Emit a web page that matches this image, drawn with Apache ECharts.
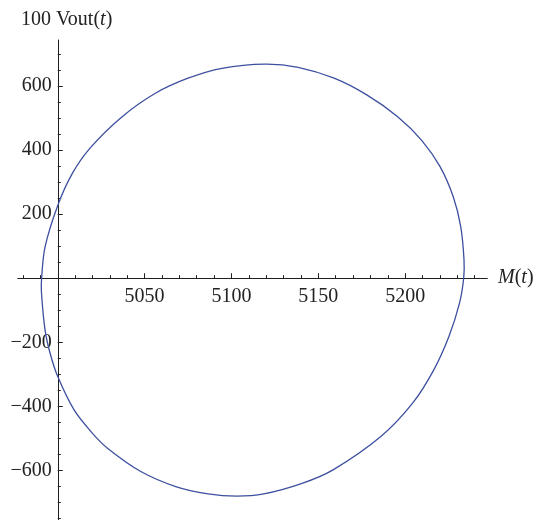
<!DOCTYPE html>
<html><head><meta charset="utf-8">
<script src="https://cdn.jsdelivr.net/npm/echarts@6/dist/echarts.min.js"></script>
<style>html,body{margin:0;padding:0;background:#fff}#c{width:538px;height:520px}</style>
</head><body><div id="c"></div>
<script>
// Closed parametric curve: M(t) and 100 Vout(t)
const mValues = [4990.7, 4992.7, 5000.0, 5008.4, 5018.6, 5036.4, 5056.2, 5075.0, 5094.5, 5119.3, 5138.4, 5159.1, 5177.9, 5195.7, 5209.4, 5220.1, 5227.7, 5232.0, 5233.9, 5233.7, 5231.3, 5225.2, 5216.5, 5204.3, 5186.0, 5158.5, 5140.7, 5118.6, 5103.0, 5086.6, 5067.9, 5048.1, 5028.8, 5020.0, 5009.4, 5000.0, 4995.6, 4992.7, 4990.6];
const voutValues = [0, 98, 227, 327, 406, 501, 577, 624, 655, 668, 658, 624, 572, 504, 431, 348, 254, 161, 57, 0, -78, -182, -286, -390, -494, -598, -640, -673, -680, -673, -650, -604, -531, -484, -411, -307, -234, -162, -43];

const xLabelValues = [5050, 5100, 5150, 5200];
const xMinorTicks = [4980, 4990, 5010, 5020, 5030, 5040, 5060, 5070, 5080, 5090, 5110, 5120, 5130, 5140, 5160, 5170, 5180, 5190, 5210, 5220, 5230, 5240];
const yLabelValues = [-600, -400, -200, 200, 400, 600];
const yMinorTicks = [-750, -700, -650, -550, -500, -450, -350, -300, -250, -150, -100, -50, 50, 100, 150, 250, 300, 350, 450, 500, 550, 650, 700];

const xMin = 4977.0, xMax = 5247.3, yMin = -754.4, yMax = 743.2, yAxisAt = 5000, xAxisAt = 0;

const gridLeft = 17.8, gridRight = 50.7, gridTop = 40, gridBottom = 0;
const gridWidth = 538 - gridLeft - gridRight;
const gridHeight = 520 - gridTop - gridBottom;
const yOffset = (yAxisAt - xMin) / (xMax - xMin) * gridWidth;
const xOffset = (xAxisAt - yMin) / (yMax - yMin) * gridHeight;

const FONT = "'Liberation Serif', 'DejaVu Serif', serif";
const AX = '#1e1e1e';
const TXT = '#222';
const fmt = v => v < 0 ? '\u2212' + Math.abs(v) : String(v);
const lbl = {fontFamily: FONT, fontSize: 20, color: TXT, fontWeight: 'normal'};
const rich = {
  a: {fontFamily: FONT, fontSize: 20, color: TXT, fontWeight: 'normal'},
  i: {fontFamily: FONT, fontSize: 20, color: TXT, fontStyle: 'italic', fontWeight: 'normal'}
};

function renderCurve(params, api) {
  if (params.dataIndex !== 0) return null;
  const pts = mValues.map((m, i) => api.coord([m, voutValues[i]]));
  const n = pts.length;
  const dist = (a, b) => Math.hypot(b[0] - a[0], b[1] - a[1]);
  let d = 'M' + pts[0][0] + ',' + pts[0][1];
  for (let i = 0; i < n; i++) {
    const p0 = pts[(i - 1 + n) % n], p1 = pts[i], p2 = pts[(i + 1) % n], p3 = pts[(i + 2) % n];
    const d01 = dist(p0, p1), d12 = dist(p1, p2), d23 = dist(p2, p3);
    const t1 = [(p2[0] - p0[0]) / (d01 + d12), (p2[1] - p0[1]) / (d01 + d12)];
    const t2 = [(p3[0] - p1[0]) / (d12 + d23), (p3[1] - p1[1]) / (d12 + d23)];
    const c1 = [p1[0] + t1[0] * d12 / 3, p1[1] + t1[1] * d12 / 3];
    const c2 = [p2[0] - t2[0] * d12 / 3, p2[1] - t2[1] * d12 / 3];
    d += 'C' + c1[0] + ',' + c1[1] + ' ' + c2[0] + ',' + c2[1] + ' ' + p2[0] + ',' + p2[1];
  }
  d += 'Z';
  return {type: 'path', shape: {pathData: d}, style: {fill: null, stroke: '#3d4f9f', lineWidth: 1.3}};
}

const chart = echarts.init(document.getElementById('c'), null, {renderer: 'canvas'});
chart.setOption({
  animation: false,
  backgroundColor: '#fff',
  title: {
    text: '{a|100 Vout(}{i|t}{a|)}',
    left: 21, top: 10, padding: 0,
    textStyle: {fontWeight: 'normal', rich: rich}
  },
  grid: {left: gridLeft, right: gridRight, top: gridTop, bottom: gridBottom, outerBoundsMode: 'none'},
  xAxis: [
    {
      type: 'value', min: xMin, max: xMax, position: 'bottom', offset: -xOffset,
      axisLine: {show: true, onZero: false, lineStyle: {color: AX, width: 1}},
      axisTick: {inside: true, length: 5, customValues: xLabelValues, lineStyle: {color: AX, width: 1}},
      axisLabel: Object.assign({customValues: xLabelValues, margin: 9, formatter: fmt}, lbl),
      splitLine: {show: false},
      name: '{i|M}{a|(}{i|t}{a|)}', nameLocation: 'end', nameGap: 10.7,
      nameTextStyle: {rich: rich}
    },
    {
      type: 'value', min: xMin, max: xMax, position: 'top', offset: -(gridHeight - xOffset),
      axisLine: {show: false, onZero: false},
      axisTick: {inside: false, length: 3, customValues: xMinorTicks, lineStyle: {color: AX, width: 1}},
      axisLabel: {show: false},
      splitLine: {show: false}
    }
  ],
  yAxis: [
    {
      type: 'value', min: yMin, max: yMax, position: 'left', offset: -yOffset,
      axisLine: {show: true, onZero: false, lineStyle: {color: AX, width: 1}},
      axisTick: {inside: true, length: 5, customValues: yLabelValues, lineStyle: {color: AX, width: 1}},
      axisLabel: Object.assign({customValues: yLabelValues, margin: 6, formatter: fmt}, lbl),
      splitLine: {show: false}
    },
    {
      type: 'value', min: yMin, max: yMax, position: 'right', offset: -(gridWidth - yOffset),
      axisLine: {show: false, onZero: false},
      axisTick: {inside: false, length: 3, customValues: yMinorTicks, lineStyle: {color: AX, width: 1}},
      axisLabel: {show: false},
      splitLine: {show: false}
    }
  ],
  series: [{
    type: 'custom',
    xAxisIndex: 0, yAxisIndex: 0,
    data: mValues.map((m, i) => [m, voutValues[i]]),
    encode: {x: 0, y: 1},
    renderItem: renderCurve,
    clip: false
  }]
});
</script>
</body></html>
